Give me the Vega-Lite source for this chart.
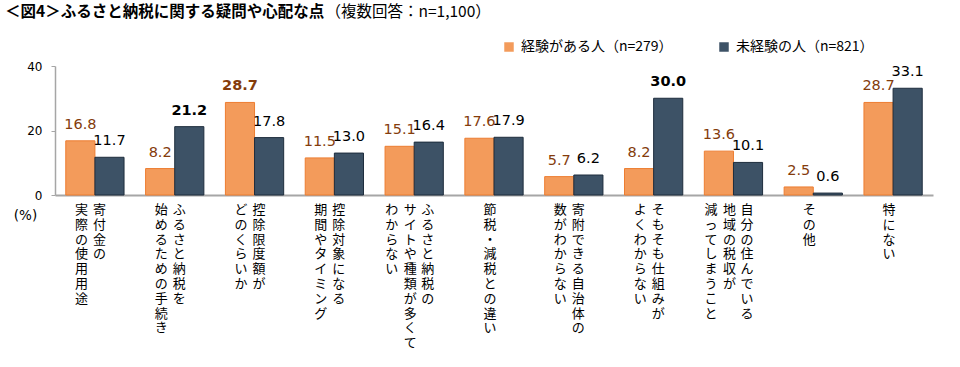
{
  "$schema": "https://vega.github.io/schema/vega-lite/v6.json",
  "autosize": {"type": "none"},
  "padding": {"left": 55, "top": 66, "right": 27, "bottom": 172},
  "width": 878,
  "height": 129,
  "background": "white",
  "title": {
    "text": "＜図4＞ふるさと納税に関する疑問や心配な点",
    "anchor": "start",
    "frame": "group",
    "font": "Noto Sans CJK JP",
    "fontSize": 15.5,
    "fontWeight": "bold",
    "color": "#000000",
    "baseline": "top",
    "dx": -50,
    "offset": -16
  },
  "datasets": {
    "bars": [
      {"cat": "寄付金の実際の使用用途", "group": "経験がある人（n=279）", "value": 16.8},
      {"cat": "寄付金の実際の使用用途", "group": "未経験の人（n=821）", "value": 11.7},
      {"cat": "ふるさと納税を始めるための手続き", "group": "経験がある人（n=279）", "value": 8.2},
      {"cat": "ふるさと納税を始めるための手続き", "group": "未経験の人（n=821）", "value": 21.2},
      {"cat": "控除限度額がどのくらいか", "group": "経験がある人（n=279）", "value": 28.7},
      {"cat": "控除限度額がどのくらいか", "group": "未経験の人（n=821）", "value": 17.8},
      {"cat": "控除対象になる期間やタイミング", "group": "経験がある人（n=279）", "value": 11.5},
      {"cat": "控除対象になる期間やタイミング", "group": "未経験の人（n=821）", "value": 13.0},
      {"cat": "ふるさと納税のサイトや種類が多くてわからない", "group": "経験がある人（n=279）", "value": 15.1},
      {"cat": "ふるさと納税のサイトや種類が多くてわからない", "group": "未経験の人（n=821）", "value": 16.4},
      {"cat": "節税・減税との違い", "group": "経験がある人（n=279）", "value": 17.6},
      {"cat": "節税・減税との違い", "group": "未経験の人（n=821）", "value": 17.9},
      {"cat": "寄附できる自治体の数がわからない", "group": "経験がある人（n=279）", "value": 5.7},
      {"cat": "寄附できる自治体の数がわからない", "group": "未経験の人（n=821）", "value": 6.2},
      {"cat": "そもそも仕組みがよくわからない", "group": "経験がある人（n=279）", "value": 8.2},
      {"cat": "そもそも仕組みがよくわからない", "group": "未経験の人（n=821）", "value": 30.0},
      {"cat": "自分の住んでいる地域の税収が減ってしまうこと", "group": "経験がある人（n=279）", "value": 13.6},
      {"cat": "自分の住んでいる地域の税収が減ってしまうこと", "group": "未経験の人（n=821）", "value": 10.1},
      {"cat": "その他", "group": "経験がある人（n=279）", "value": 2.5},
      {"cat": "その他", "group": "未経験の人（n=821）", "value": 0.6},
      {"cat": "特にない", "group": "経験がある人（n=279）", "value": 28.7},
      {"cat": "特にない", "group": "未経験の人（n=821）", "value": 33.1}
    ],
    "labels": [
      {"cat": "寄付金の実際の使用用途", "col": 1, "ncol": 2, "text": "寄付金の"},
      {"cat": "寄付金の実際の使用用途", "col": 2, "ncol": 2, "text": "実際の使用用途"},
      {"cat": "ふるさと納税を始めるための手続き", "col": 1, "ncol": 2, "text": "ふるさと納税を"},
      {"cat": "ふるさと納税を始めるための手続き", "col": 2, "ncol": 2, "text": "始めるための手続き"},
      {"cat": "控除限度額がどのくらいか", "col": 1, "ncol": 2, "text": "控除限度額が"},
      {"cat": "控除限度額がどのくらいか", "col": 2, "ncol": 2, "text": "どのくらいか"},
      {"cat": "控除対象になる期間やタイミング", "col": 1, "ncol": 2, "text": "控除対象になる"},
      {"cat": "控除対象になる期間やタイミング", "col": 2, "ncol": 2, "text": "期間やタイミング"},
      {"cat": "ふるさと納税のサイトや種類が多くてわからない", "col": 1, "ncol": 3, "text": "ふるさと納税の"},
      {"cat": "ふるさと納税のサイトや種類が多くてわからない", "col": 2, "ncol": 3, "text": "サイトや種類が多くて"},
      {"cat": "ふるさと納税のサイトや種類が多くてわからない", "col": 3, "ncol": 3, "text": "わからない"},
      {"cat": "節税・減税との違い", "col": 1, "ncol": 1, "text": "節税・減税との違い"},
      {"cat": "寄附できる自治体の数がわからない", "col": 1, "ncol": 2, "text": "寄附できる自治体の"},
      {"cat": "寄附できる自治体の数がわからない", "col": 2, "ncol": 2, "text": "数がわからない"},
      {"cat": "そもそも仕組みがよくわからない", "col": 1, "ncol": 2, "text": "そもそも仕組みが"},
      {"cat": "そもそも仕組みがよくわからない", "col": 2, "ncol": 2, "text": "よくわからない"},
      {"cat": "自分の住んでいる地域の税収が減ってしまうこと", "col": 1, "ncol": 3, "text": "自分の住んでいる"},
      {"cat": "自分の住んでいる地域の税収が減ってしまうこと", "col": 2, "ncol": 3, "text": "地域の税収が"},
      {"cat": "自分の住んでいる地域の税収が減ってしまうこと", "col": 3, "ncol": 3, "text": "減ってしまうこと"},
      {"cat": "その他", "col": 1, "ncol": 1, "text": "その他"},
      {"cat": "特にない", "col": 1, "ncol": 1, "text": "特にない"}
    ]
  },
  "resolve": {"scale": {"color": "independent"}},
  "layer": [
    {
      "data": {"name": "bars"},
      "mark": {"type": "bar", "strokeWidth": 1},
      "encoding": {
        "x": {
          "field": "cat", "type": "nominal", "sort": null,
          "scale": {"paddingInner": 0.27, "paddingOuter": 0.135},
          "axis": {
            "labels": false, "ticks": false, "domainColor": "#A6A6A6", "domainWidth": 2,
            "title": "（複数回答：n=1,100）", "titleX": 270, "titleY": -184,
            "titleAlign": "left", "titleBaseline": "middle", "titleAnchor": "start",
            "titleFont": "Noto Sans CJK JP", "titleFontSize": 15.5, "titleFontWeight": "normal", "titleColor": "#000000"
          }
        },
        "xOffset": {"field": "group", "type": "nominal", "sort": null, "scale": {"paddingInner": 0, "paddingOuter": 0}},
        "y": {
          "field": "value", "type": "quantitative",
          "scale": {"domain": [0, 40], "nice": false},
          "axis": {
            "values": [0, 20, 40], "grid": false, "domainColor": "#A6A6A6", "domainWidth": 1.5,
            "tickColor": "#A6A6A6", "tickSize": 4, "labelPadding": 9,
            "labelFont": "DejaVu Sans", "labelFontSize": 12, "labelColor": "#000000",
            "title": "(%)", "titleAngle": 0, "titleX": -30, "titleY": 149,
            "titleAlign": "center", "titleBaseline": "middle",
            "titleFont": "DejaVu Sans", "titleFontSize": 13.5, "titleFontWeight": "normal", "titleColor": "#000000"
          }
        },
        "color": {
          "field": "group", "type": "nominal", "sort": null,
          "scale": {"domain": ["経験がある人（n=279）", "未経験の人（n=821）"], "range": ["#F39B5B", "#3D5266"]},
          "legend": {
            "orient": "none", "legendX": 447, "legendY": -26, "direction": "horizontal", "title": null,
            "labelFont": "Noto Sans CJK JP", "labelFontSize": 14, "labelColor": "#000000", "labelLimit": 400,
            "symbolType": "square", "symbolSize": 90, "symbolStrokeWidth": 0, "columnPadding": 44, "padding": 0,
            "labelOffset": 5
          }
        },
        "stroke": {
          "field": "group", "type": "nominal",
          "scale": {"domain": ["経験がある人（n=279）", "未経験の人（n=821）"], "range": ["#ED7D31", "#1E2D3D"]},
          "legend": null
        }
      }
    },
    {
      "data": {"name": "bars"},
      "transform": [
        {"joinaggregate": [{"op": "max", "field": "value", "as": "mx"}, {"op": "min", "field": "value", "as": "mn"}], "groupby": ["cat"]},
        {"filter": "!(datum.value == datum.mx && datum.mx - datum.mn > 10)"}
      ],
      "mark": {"type": "text", "font": "DejaVu Sans", "fontSize": 14.5, "baseline": "alphabetic", "dy": -12},
      "encoding": {
        "x": {"field": "cat", "type": "nominal", "sort": null},
        "xOffset": {"field": "group", "type": "nominal", "sort": null},
        "y": {"field": "value", "type": "quantitative"},
        "text": {"field": "value", "type": "quantitative", "format": ".1f"},
        "color": {
          "field": "group", "type": "nominal",
          "scale": {"domain": ["経験がある人（n=279）", "未経験の人（n=821）"], "range": ["#843C0C", "#000000"]},
          "legend": null
        }
      }
    },
    {
      "data": {"name": "bars"},
      "transform": [
        {"joinaggregate": [{"op": "max", "field": "value", "as": "mx"}, {"op": "min", "field": "value", "as": "mn"}], "groupby": ["cat"]},
        {"filter": "datum.value == datum.mx && datum.mx - datum.mn > 10"}
      ],
      "mark": {"type": "text", "font": "DejaVu Sans", "fontSize": 14.5, "fontWeight": "bold", "baseline": "alphabetic", "dy": -12},
      "encoding": {
        "x": {"field": "cat", "type": "nominal", "sort": null},
        "xOffset": {"field": "group", "type": "nominal", "sort": null},
        "y": {"field": "value", "type": "quantitative"},
        "text": {"field": "value", "type": "quantitative", "format": ".1f"},
        "color": {
          "field": "group", "type": "nominal",
          "scale": {"domain": ["経験がある人（n=279）", "未経験の人（n=821）"], "range": ["#843C0C", "#000000"]},
          "legend": null
        }
      }
    },
    {
      "data": {"name": "labels"},
      "transform": [
        {"calculate": "datum.ncol - 1 - 2 * (datum.col - 1)", "as": "slot"},
        {"calculate": "split(datum.text, '')", "as": "chars"},
        {"filter": "datum.slot == -2"}
      ],
      "mark": {"type": "text", "font": "Noto Sans CJK JP", "fontSize": 13, "lineHeight": 14.8, "align": "center", "baseline": "top", "dy": 9, "dx": -22.5, "color": "#000000"},
      "encoding": {
        "x": {"field": "cat", "type": "nominal", "sort": null},
        "y": {"datum": 0, "type": "quantitative"},
        "text": {"field": "chars", "type": "nominal"}
      }
    },
    {
      "data": {"name": "labels"},
      "transform": [
        {"calculate": "datum.ncol - 1 - 2 * (datum.col - 1)", "as": "slot"},
        {"calculate": "split(datum.text, '')", "as": "chars"},
        {"filter": "datum.slot == -1"}
      ],
      "mark": {"type": "text", "font": "Noto Sans CJK JP", "fontSize": 13, "lineHeight": 14.8, "align": "center", "baseline": "top", "dy": 9, "dx": -13.5, "color": "#000000"},
      "encoding": {
        "x": {"field": "cat", "type": "nominal", "sort": null},
        "y": {"datum": 0, "type": "quantitative"},
        "text": {"field": "chars", "type": "nominal"}
      }
    },
    {
      "data": {"name": "labels"},
      "transform": [
        {"calculate": "datum.ncol - 1 - 2 * (datum.col - 1)", "as": "slot"},
        {"calculate": "split(datum.text, '')", "as": "chars"},
        {"filter": "datum.slot == 0"}
      ],
      "mark": {"type": "text", "font": "Noto Sans CJK JP", "fontSize": 13, "lineHeight": 14.8, "align": "center", "baseline": "top", "dy": 9, "dx": -4, "color": "#000000"},
      "encoding": {
        "x": {"field": "cat", "type": "nominal", "sort": null},
        "y": {"datum": 0, "type": "quantitative"},
        "text": {"field": "chars", "type": "nominal"}
      }
    },
    {
      "data": {"name": "labels"},
      "transform": [
        {"calculate": "datum.ncol - 1 - 2 * (datum.col - 1)", "as": "slot"},
        {"calculate": "split(datum.text, '')", "as": "chars"},
        {"filter": "datum.slot == 1"}
      ],
      "mark": {"type": "text", "font": "Noto Sans CJK JP", "fontSize": 13, "lineHeight": 14.8, "align": "center", "baseline": "top", "dy": 9, "dx": 4.5, "color": "#000000"},
      "encoding": {
        "x": {"field": "cat", "type": "nominal", "sort": null},
        "y": {"datum": 0, "type": "quantitative"},
        "text": {"field": "chars", "type": "nominal"}
      }
    },
    {
      "data": {"name": "labels"},
      "transform": [
        {"calculate": "datum.ncol - 1 - 2 * (datum.col - 1)", "as": "slot"},
        {"calculate": "split(datum.text, '')", "as": "chars"},
        {"filter": "datum.slot == 2"}
      ],
      "mark": {"type": "text", "font": "Noto Sans CJK JP", "fontSize": 13, "lineHeight": 14.8, "align": "center", "baseline": "top", "dy": 9, "dx": 13.5, "color": "#000000"},
      "encoding": {
        "x": {"field": "cat", "type": "nominal", "sort": null},
        "y": {"datum": 0, "type": "quantitative"},
        "text": {"field": "chars", "type": "nominal"}
      }
    }
  ],
  "config": {
    "view": {"stroke": null}
  }
}
